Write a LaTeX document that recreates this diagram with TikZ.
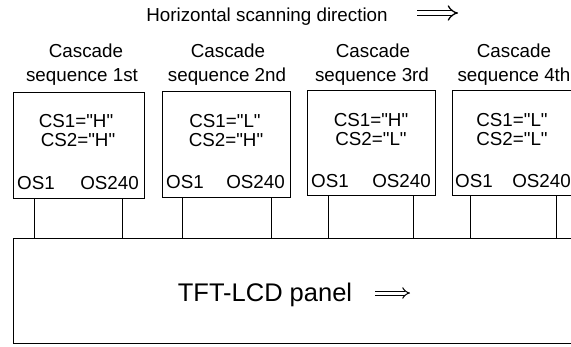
\documentclass[tikz,border=0pt]{standalone}
\usepackage{fontspec}
\setmainfont{Liberation Sans}
\usetikzlibrary{arrows.meta}
\newcommand{\qq}{\textquotedbl}
\begin{document}
\begin{tikzpicture}[x=1pt,y=-1pt,
  txt/.style={font=\fontsize{18.8}{21}\selectfont, inner sep=0pt, anchor=base},
  bigtxt/.style={font=\fontsize{25.5}{28}\selectfont, inner sep=0pt, anchor=base},
  seqbox/.style={draw, line width=1.3pt, anchor=north west, minimum height=105pt, minimum width=128pt, inner sep=0pt},
  conn/.style={line width=0.8pt},
  dblarrow/.style={double, -{Implies}}]
\clip (0,0) rectangle (571,346);
\fill[white] (0,0) rectangle (571,346);
% title
\node[txt] (title) at (267,21) {Horizontal scanning direction};
\coordinate (ta1) at (417,13);
\coordinate (ta2) at (458,13);
\draw[dblarrow, line width=1.3pt, double distance=4pt] (ta1) -- (ta2);
% labels
\node[txt] (l1a) at (86,57) {Cascade};
\node[txt] (l1b) at (82,81) {sequence 1st};
\node[txt] (l2a) at (228,57) {Cascade};
\node[txt] (l2b) at (227,81) {sequence 2nd};
\node[txt] (l3a) at (373,57) {Cascade};
\node[txt] (l3b) at (372,81) {sequence 3rd};
\node[txt] (l4a) at (514,57) {Cascade};
\node[txt] (l4b) at (514,81) {sequence 4th};
% boxes
\node[seqbox, minimum width=131pt, minimum height=106pt] (b1) at (13,92) {};
\node[seqbox, minimum width=128pt, minimum height=106pt] (b2) at (162,91) {};
\node[seqbox, minimum width=128pt, minimum height=105pt] (b3) at (307,90) {};
\node[seqbox, minimum width=130pt, minimum height=105pt] (b4) at (452,90) {};
% box texts
\node[txt] (b1cs1) at (76,127) {CS1=\qq H\qq};
\node[txt] (b1cs2) at (78,146) {CS2=\qq H\qq};
\node[txt] (b2cs1) at (225,127) {CS1=\qq L\qq};
\node[txt] (b2cs2) at (226,146) {CS2=\qq H\qq};
\node[txt] (b3cs1) at (371,126) {CS1=\qq H\qq};
\node[txt] (b3cs2) at (371,145) {CS2=\qq L\qq};
\node[txt] (b4cs1) at (512,126) {CS1=\qq L\qq};
\node[txt] (b4cs2) at (512,145) {CS2=\qq L\qq};
\node[txt, anchor=base west] (b1o1) at (17,189) {OS1};
\node[txt, anchor=base east] (b1o2) at (139,189) {OS240};
\node[txt, anchor=base west] (b2o1) at (166,188) {OS1};
\node[txt, anchor=base east] (b2o2) at (285,188) {OS240};
\node[txt, anchor=base west] (b3o1) at (311,187) {OS1};
\node[txt, anchor=base east] (b3o2) at (431,187) {OS240};
\node[txt, anchor=base west] (b4o1) at (455,187) {OS1};
\node[txt, anchor=base east] (b4o2) at (571,187) {OS240};
% panel
\node[seqbox, minimum width=600pt, minimum height=105pt] (panel) at (13,238) {};
\node[bigtxt] (ptxt) at (265,301) {TFT-LCD panel};
\coordinate (pa1) at (375,293);
\coordinate (pa2) at (410,293);
\draw[dblarrow, line width=1pt, double distance=3pt] (pa1) -- (pa2);
% connectors
\coordinate (c11) at (34,0);
\coordinate (c12) at (122,0);
\coordinate (c21) at (182,0);
\coordinate (c22) at (271,0);
\coordinate (c31) at (328,0);
\coordinate (c32) at (413,0);
\coordinate (c41) at (470,0);
\coordinate (c42) at (556,0);
\draw[conn] (b1.south -| c11) -- (panel.north -| c11);
\draw[conn] (b1.south -| c12) -- (panel.north -| c12);
\draw[conn] (b2.south -| c21) -- (panel.north -| c21);
\draw[conn] (b2.south -| c22) -- (panel.north -| c22);
\draw[conn] (b3.south -| c31) -- (panel.north -| c31);
\draw[conn] (b3.south -| c32) -- (panel.north -| c32);
\draw[conn] (b4.south -| c41) -- (panel.north -| c41);
\draw[conn] (b4.south -| c42) -- (panel.north -| c42);
\end{tikzpicture}
\end{document}
